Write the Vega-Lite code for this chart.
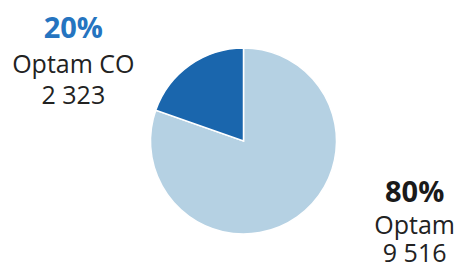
{
  "$schema": "https://vega.github.io/schema/vega-lite/v6.json",
  "width": 458,
  "height": 266,
  "autosize": {"type": "fit", "contains": "padding"},
  "padding": {"left": 26, "top": 22, "right": 0, "bottom": 0},
  "background": "white",
  "config": {"view": {"stroke": null}, "text": {"font": "Open Sans"}},
  "data": {"values": [
    {"category": "Optam", "value": 9516, "pct": "80%", "label": "9 516"},
    {"category": "Optam CO", "value": 2323, "pct": "20%", "label": "2 323"}
  ]},
  "encoding": {
    "theta": {"field": "value", "type": "quantitative", "stack": true},
    "order": {"field": "category", "type": "nominal", "sort": "ascending"}
  },
  "layer": [
    {
      "mark": {"type": "arc", "outerRadius": 93, "stroke": "white", "strokeWidth": 1.5},
      "encoding": {
        "color": {"field": "category", "type": "nominal", "legend": null,
          "scale": {"domain": ["Optam", "Optam CO"], "range": ["#b5d1e3", "#1a66ad"]}}
      }
    },
    {
      "mark": {"type": "text", "radius": 130, "dx": -95, "dy": 3, "align": "center", "baseline": "alphabetic", "fontSize": 29, "fontWeight": "bold", "color": "#2574c0"},
      "encoding": {"text": {"condition": {"test": "datum.category === 'Optam CO'", "field": "pct"}, "value": ""}}
    },
    {
      "mark": {"type": "text", "radius": 130, "dx": -95, "dy": 38, "align": "center", "baseline": "alphabetic", "fontSize": 25, "color": "#222222"},
      "encoding": {"text": {"condition": {"test": "datum.category === 'Optam CO'", "field": "category"}, "value": ""}}
    },
    {
      "mark": {"type": "text", "radius": 130, "dx": -95, "dy": 69, "align": "center", "baseline": "alphabetic", "fontSize": 25, "color": "#222222"},
      "encoding": {"text": {"condition": {"test": "datum.category === 'Optam CO'", "field": "label"}, "value": ""}}
    },
    {
      "mark": {"type": "text", "radius": 130, "dx": 96, "dy": -45, "align": "center", "baseline": "alphabetic", "fontSize": 29, "fontWeight": "bold", "color": "#1a1a1a"},
      "encoding": {"text": {"condition": {"test": "datum.category === 'Optam'", "field": "pct"}, "value": ""}}
    },
    {
      "mark": {"type": "text", "radius": 130, "dx": 96, "dy": -13, "align": "center", "baseline": "alphabetic", "fontSize": 25, "color": "#222222"},
      "encoding": {"text": {"condition": {"test": "datum.category === 'Optam'", "field": "category"}, "value": ""}}
    },
    {
      "mark": {"type": "text", "radius": 130, "dx": 96, "dy": 15, "align": "center", "baseline": "alphabetic", "fontSize": 25, "color": "#222222"},
      "encoding": {"text": {"condition": {"test": "datum.category === 'Optam'", "field": "label"}, "value": ""}}
    }
  ]
}
